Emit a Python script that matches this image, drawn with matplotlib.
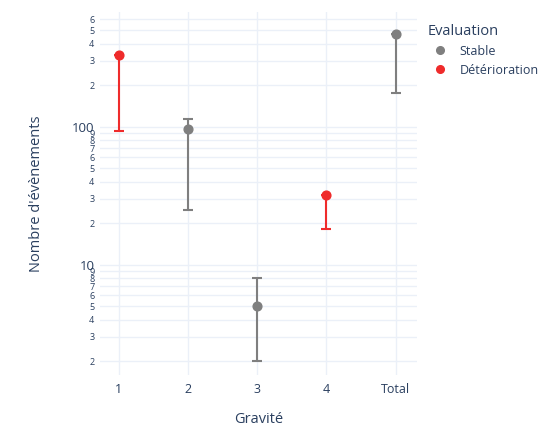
import matplotlib.pyplot as plt
from matplotlib.lines import Line2D
from matplotlib.ticker import FixedLocator, FuncFormatter
import numpy as np

plt.rcParams['font.family'] = ['Open Sans', 'DejaVu Sans']

# Data
categories = ['1', '2', '3', '4', 'Total']
evaluation = ['Détérioration', 'Stable', 'Stable', 'Détérioration', 'Stable']
values = [331, 96, 5, 32, 467]
lower = [93, 25, 2, 18, 175]
upper = [331, 114, 8, 32, 467]
legend_order = ['Stable', 'Détérioration']

colors = {'Stable': '#7f7f7f', 'Détérioration': '#ef2b2b'}
text_color = '#2a3f5f'
grid_color = '#ebf0f8'

fig = plt.figure(figsize=(5.6, 4.23), dpi=100)
ax = fig.add_axes([100 / 560, 48 / 423, 317 / 560, 363 / 423])

x = np.arange(len(categories))
for name in legend_order:
    idx = [i for i, e in enumerate(evaluation) if e == name]
    v = np.array([values[i] for i in idx])
    lo = np.array([lower[i] for i in idx])
    hi = np.array([upper[i] for i in idx])
    ax.errorbar(x[idx], v, yerr=[v - lo, hi - v], fmt='o', color=colors[name],
                ms=6.3, elinewidth=1.5, capsize=3.3, capthick=1.5, zorder=3)

ax.set_yscale('log')
ax.set_ylim(1.587, 678)
ax.set_xlim(-0.27, 4.31)
ax.set_xticks(x)
ax.set_xticklabels(categories)

ax.yaxis.set_major_locator(FixedLocator([10, 100]))
minor = [m * d for d in [1, 10, 100] for m in range(2, 10)]
ax.yaxis.set_minor_locator(FixedLocator(minor))
ax.yaxis.set_minor_formatter(FuncFormatter(lambda v, p: str(int(round(v / 10 ** np.floor(np.log10(v)))))))
ax.yaxis.set_major_formatter(FuncFormatter(lambda v, p: str(int(round(v)))))

ax.tick_params(axis='both', which='both', length=0, colors=text_color)
ax.tick_params(axis='x', labelsize=9, pad=6)
ax.tick_params(axis='y', which='major', labelsize=9.5, pad=4)
ax.tick_params(axis='y', which='minor', labelsize=6.5, pad=4)

ax.grid(True, which='both', axis='y', color=grid_color, lw=1)
ax.grid(True, which='major', axis='x', color=grid_color, lw=1)
ax.set_axisbelow(True)
for s in ax.spines.values():
    s.set_visible(False)

ax.set_ylabel("Nombre d'évènements", fontsize=10.5, color=text_color)
ax.yaxis.set_label_coords(-0.178, 0.5)
ax.set_xlabel('Gravité', fontsize=10.5, color=text_color)
ax.xaxis.set_label_coords(0.5, -0.102)

handles = [Line2D([], [], ls='none', marker='o', ms=5.5, color=colors[n]) for n in legend_order]
leg = fig.legend(handles, legend_order, loc='upper left',
                 bbox_to_anchor=(416 / 560, 1 - 13 / 423),
                 title='Evaluation', frameon=False, fontsize=9,
                 title_fontsize=10.5, handletextpad=0.6, labelspacing=0.45)
leg._legend_box.align = 'left'
for t in leg.get_texts():
    t.set_color(text_color)
leg.get_title().set_color(text_color)

fig.savefig('out.png', dpi=100)
